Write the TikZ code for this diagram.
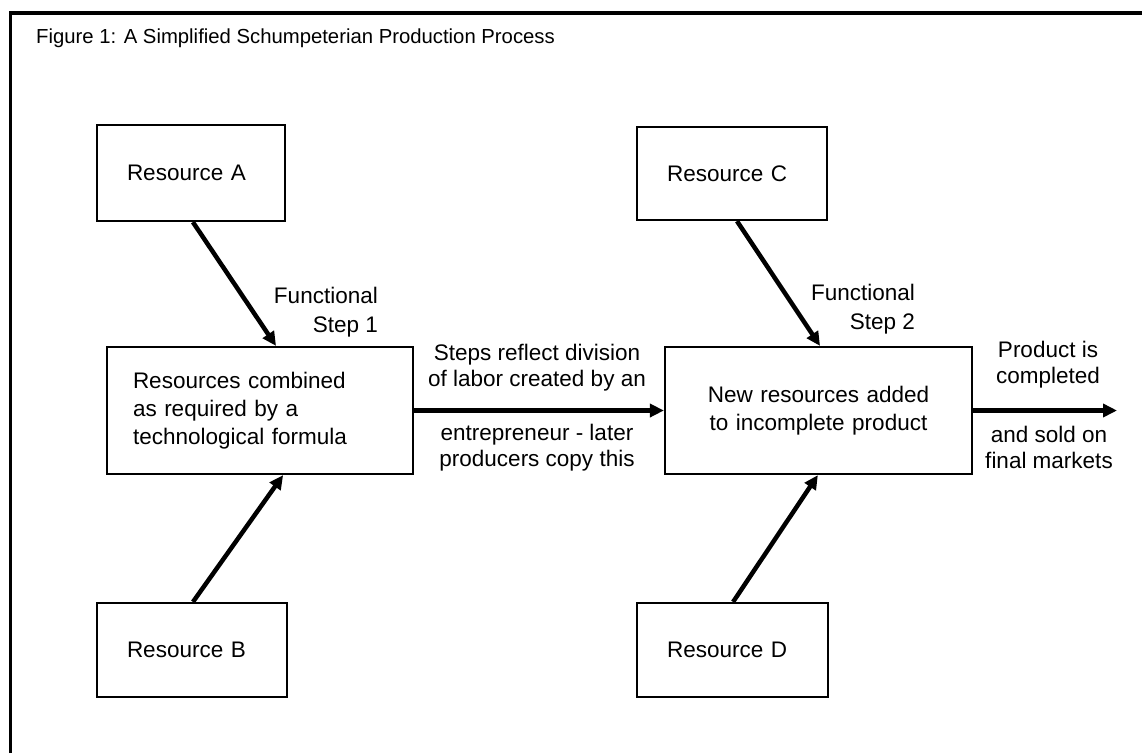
\documentclass[tikz,border=0pt]{standalone}
\usepackage{fontspec}
\setmainfont{Liberation Sans}
\usetikzlibrary{arrows.meta,calc}

\newcommand\bodyfont{\fontsize{22.5}{26}\selectfont}
\newcommand\boxfont{\fontsize{22.5}{28}\selectfont}
\newcommand\headfont{\fontsize{20.3}{24}\selectfont}

\begin{document}
\begin{tikzpicture}[x=1pt,y=-1pt,
  resbox/.style={draw,line width=2.2pt,align=left,inner ysep=0pt,font=\bodyfont},
  stagebox/.style={draw,line width=2.2pt,inner ysep=0pt,font=\boxfont},
  flow/.style={line width=4.5pt,-{Triangle[length=14pt,width=13pt]}},
  note/.style={font=\bodyfont,inner sep=0pt}
]
\useasboundingbox (0,0) rectangle (1142,753);

% open frame: top and left rules
\draw[line width=3.5pt] (10.5,753) -- (10.5,13) -- (1142,13);

\node[anchor=base west,font=\headfont,inner sep=0pt] (title) at (36,43)
  {Figure 1: A Simplified Schumpeterian Production Process};

% resource boxes
\node[resbox,inner xsep=30pt,text width=128pt,minimum height=96pt] (A) at (191,173) {Resource A};
\node[resbox,inner xsep=30pt,text width=130pt,minimum height=94pt] (B) at (192,650) {Resource B};
\node[resbox,inner xsep=30pt,text width=130pt,minimum height=93pt] (C) at (732,173.5) {Resource C};
\node[resbox,inner xsep=30pt,text width=131pt,minimum height=94pt] (D) at (732.5,650) {Resource D};

% production stages
\node[stagebox,align=left,inner xsep=26pt,text width=254pt,minimum height=127pt] (S1) at (260,410.5)
  {Resources combined\\as required by a\\technological formula};
\node[stagebox,align=center,inner xsep=20pt,text width=267pt,minimum height=127pt] (S2) at (818.5,410.5)
  {New resources added\\to incomplete product};

\coordinate (out) at (1117,410.5);

% inputs into each stage
\draw[flow] ($(A.south west)!0.51!(A.south east)$) -- ($(S1.north west)!0.552!(S1.north east)$);
\draw[flow] ($(B.north west)!0.505!(B.north east)$) -- ($(S1.south west)!0.575!(S1.south east)$);
\draw[flow] ($(C.south west)!0.526!(C.south east)$) -- ($(S2.north west)!0.505!(S2.north east)$);
\draw[flow] ($(D.north west)!0.503!(D.north east)$) -- ($(S2.south west)!0.498!(S2.south east)$);

% stage to stage, and out to the market
\draw[flow] (S1.east) -- (S2.west);
\draw[flow] (S2.east) -- (out);

% labels
\node[note,align=right,anchor=east,font=\fontsize{22.5}{28.5}\selectfont] (f1) at (378,312) {Functional\\Step 1};
\node[note,align=right,anchor=east,font=\fontsize{22.5}{28.5}\selectfont] (f2) at (915,309) {Functional\\Step 2};
\node[note,align=center] (l1) at (537,367.5) {Steps reflect division\\of labor created by an};
\node[note,align=center] (l2) at (537,448) {entrepreneur - later\\producers copy this};
\node[note,align=center] (l3) at (1048,364.5) {Product is\\completed};
\node[note,align=center] (l4) at (1049,447.5) {and sold on\\final markets};
\end{tikzpicture}
\end{document}
